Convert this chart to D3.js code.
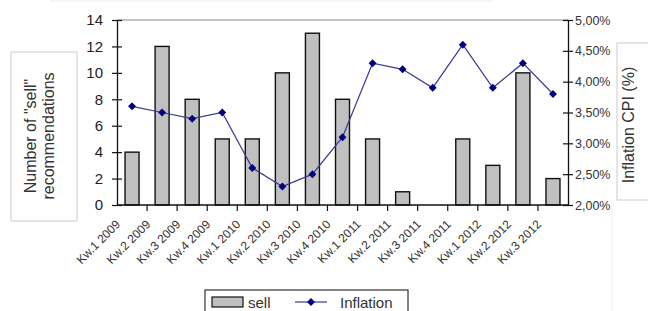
<!DOCTYPE html>
<html>
<head>
<meta charset="utf-8">
<script src="https://cdnjs.cloudflare.com/ajax/libs/d3/7.8.5/d3.min.js"></script>
<style>
  body { margin: 0; background: #fff; }
  svg text { font-family: "Liberation Sans", Arial, sans-serif; }
</style>
</head>
<body>
<div id="chart"></div>
<script>
// Chart data
var quarters = ["Kw.1 2009", "Kw.2 2009", "Kw.3 2009", "Kw.4 2009", "Kw.1 2010", "Kw.2 2010",
  "Kw.3 2010", "Kw.4 2010", "Kw.1 2011", "Kw.2 2011", "Kw.3 2011", "Kw.4 2011",
  "Kw.1 2012", "Kw.2 2012", "Kw.3 2012"];
var sellCounts = [4, 12, 8, 5, 5, 10, 13, 8, 5, 1, 0, 5, 3, 10, 2];
var inflation = [3.6, 3.5, 3.4, 3.5, 2.6, 2.3, 2.5, 3.1, 4.3, 4.2, 3.9, 4.6, 3.9, 4.3, 3.8];
var leftTicks = [0, 2, 4, 6, 8, 10, 12, 14];
var rightTicks = [2.0, 2.5, 3.0, 3.5, 4.0, 4.5, 5.0];

var svgWidth = 648;
var svgHeight = 311;
var margin = { top: 20, right: 80, bottom: 106, left: 117 };
var width = svgWidth - margin.left - margin.right;
var height = svgHeight - margin.top - margin.bottom;

var svg = d3.select("#chart")
  .append("svg")
  .attr("width", svgWidth)
  .attr("height", svgHeight);

// faint outer border of the chart area
svg.append("line").attr("x1", 50).attr("x2", 493).attr("y1", 1).attr("y2", 1)
  .attr("stroke", "#eee");
svg.append("line").attr("x1", 612).attr("x2", 612).attr("y1", 200).attr("y2", 311)
  .attr("stroke", "#f0f0f0");

var chartGroup = svg.append("g")
  .attr("transform", `translate(${margin.left}, ${margin.top})`);

// Scales
var xScale = d3.scaleBand()
  .domain(quarters)
  .range([0, width]);

var yLeft = d3.scaleLinear().domain([0, 14]).range([height, 0]);
var yRight = d3.scaleLinear().domain([2, 5]).range([height, 0]);

// top border of plot area
chartGroup.append("line")
  .attr("x1", 0).attr("x2", width).attr("y1", 0).attr("y2", 0)
  .attr("stroke", "#888").attr("stroke-width", 1.2);

// Bars
var barW = 14;
chartGroup.selectAll("rect.bar")
  .data(sellCounts)
  .enter()
  .append("rect")
  .attr("class", "bar")
  .attr("x", (d, i) => xScale(quarters[i]) + xScale.bandwidth() / 2 - barW / 2)
  .attr("y", d => yLeft(d))
  .attr("width", barW)
  .attr("height", d => height - yLeft(d))
  .attr("fill", d => d > 0 ? "#c0c0c0" : "none")
  .attr("stroke", d => d > 0 ? "#111" : "none")
  .attr("stroke-width", 1.4);

// Left axis
var leftAxis = d3.axisLeft(yLeft).tickValues(leftTicks).tickSizeInner(5).tickSizeOuter(0);
var gl = chartGroup.append("g").call(leftAxis);
gl.select(".domain").attr("stroke", "#111").attr("stroke-width", 1.3);
gl.selectAll(".tick line").attr("x1", 5).attr("x2", -5).attr("stroke", "#111").attr("stroke-width", 1.2);
gl.selectAll(".tick text")
  .attr("x", -14)
  .style("font-size", "15px")
  .attr("fill", "#222");

// Right axis
var rightAxis = d3.axisRight(yRight).tickValues(rightTicks).tickSizeInner(5).tickSizeOuter(0)
  .tickFormat(d => d3.format(".2f")(d).replace(".", ",") + "%");
var gr = chartGroup.append("g")
  .attr("transform", `translate(${width}, 0)`)
  .call(rightAxis);
gr.select(".domain").attr("stroke", "#111").attr("stroke-width", 1.3);
gr.selectAll(".tick line").attr("x1", -5).attr("x2", 5).attr("stroke", "#111").attr("stroke-width", 1.2);
gr.selectAll(".tick text")
  .attr("x", 7)
  .style("font-size", "12.5px")
  .attr("fill", "#333");

// Bottom axis with ticks between categories
var gb = chartGroup.append("g").attr("transform", `translate(0, ${height})`);
gb.append("line").attr("x1", 0).attr("x2", width).attr("stroke", "#111").attr("stroke-width", 1.3);
gb.selectAll("line.tk")
  .data(quarters.slice(1))
  .enter()
  .append("line")
  .attr("class", "tk")
  .attr("x1", d => xScale(d)).attr("x2", d => xScale(d))
  .attr("y1", 0).attr("y2", 6)
  .attr("stroke", "#111").attr("stroke-width", 1.2);
gb.selectAll("text")
  .data(quarters)
  .enter()
  .append("text")
  .attr("transform", d => `translate(${xScale(d) + xScale.bandwidth() / 2 - 11}, 20) rotate(-45)`)
  .attr("text-anchor", "end")
  .style("font-size", "12px")
  .attr("fill", "#333")
  .text(d => d);

// Inflation line
var line = d3.line()
  .x((d, i) => xScale(quarters[i]) + xScale.bandwidth() / 2)
  .y(d => yRight(d));

chartGroup.append("path")
  .datum(inflation)
  .attr("d", line)
  .attr("fill", "none")
  .attr("stroke", "#3a3a90")
  .attr("stroke-width", 1.2);

var diamond = d3.symbol().type(d3.symbolDiamond2).size(40);
chartGroup.selectAll("path.marker")
  .data(inflation)
  .enter()
  .append("path")
  .attr("class", "marker")
  .attr("d", diamond)
  .attr("transform", (d, i) => `translate(${xScale(quarters[i]) + xScale.bandwidth() / 2}, ${yRight(d)})`)
  .attr("fill", "#000080");

// Left axis title box
svg.append("rect")
  .attr("x", 11).attr("y", 52).attr("width", 66).attr("height", 169)
  .attr("fill", "#fff").attr("stroke", "#ccc");
var lt = svg.append("text")
  .attr("transform", "translate(38, 136) rotate(-90)")
  .attr("text-anchor", "middle")
  .style("font-size", "16px")
  .attr("fill", "#333");
lt.append("tspan").attr("x", 0).attr("dy", "-0.15em").text('Number of "sell"');
lt.append("tspan").attr("x", 0).attr("dy", "1.15em").text("recommendations");

// Right axis title box
svg.append("rect")
  .attr("x", 617).attr("y", 43).attr("width", 40).attr("height", 157)
  .attr("fill", "#fff").attr("stroke", "#ccc");
svg.append("text")
  .attr("transform", "translate(634, 125) rotate(-90)")
  .attr("text-anchor", "middle")
  .style("font-size", "16px")
  .attr("fill", "#333")
  .text("Inflation CPI (%)");

// Legend
var legend = svg.append("g");
legend.append("rect")
  .attr("x", 205).attr("y", 290).attr("width", 203).attr("height", 30)
  .attr("fill", "#fff").attr("stroke", "#333").attr("stroke-width", 1.2);
legend.append("rect")
  .attr("x", 212).attr("y", 297).attr("width", 31).attr("height", 10)
  .attr("fill", "#c0c0c0").attr("stroke", "#111").attr("stroke-width", 1.2);
legend.append("text")
  .attr("x", 248).attr("y", 308)
  .style("font-size", "15px").attr("fill", "#333")
  .text("sell");
legend.append("line")
  .attr("x1", 295).attr("x2", 327).attr("y1", 302).attr("y2", 302)
  .attr("stroke", "#3a3a90").attr("stroke-width", 1.2);
legend.append("path")
  .attr("d", diamond)
  .attr("transform", "translate(311, 302)")
  .attr("fill", "#000080");
legend.append("text")
  .attr("x", 340).attr("y", 308)
  .style("font-size", "15px").attr("fill", "#333")
  .text("Inflation");
</script>
</body>
</html>
